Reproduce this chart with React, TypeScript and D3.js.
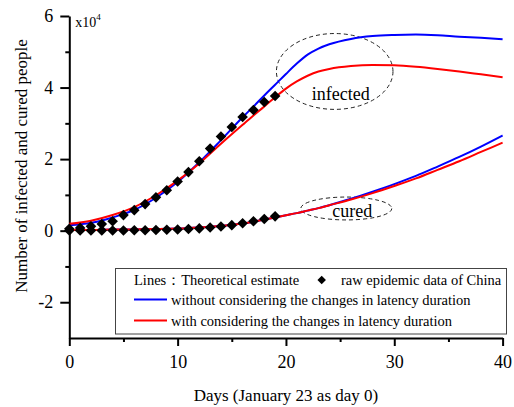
import * as d3 from 'd3'
import { useEffect, useRef } from 'react'

// raw epidemic data of China (x10^4), day 0..19
const rawDays = d3.range(0, 20)
const rawInfected = [
  0.053, 0.077, 0.121, 0.187, 0.261, 0.435, 0.574, 0.742, 0.931, 1.129,
  1.375, 1.637, 1.938, 2.294, 2.63, 2.899, 3.177, 3.374, 3.598, 3.763,
]
const rawCured = [
  0.003, 0.003, 0.004, 0.005, 0.005, 0.006, 0.01, 0.012, 0.017, 0.024,
  0.033, 0.048, 0.063, 0.089, 0.115, 0.154, 0.205, 0.265, 0.328, 0.4,
]

// theoretical estimate, read at these days (denser around the bend)
const curveDays = [
  0, 2, 4, 6, 8, 10, 12, 14, 16, 17, 18, 19, 20, 21, 22, 23, 24,
  26, 28, 30, 32, 34, 36, 38, 40,
]
const blueInfected = [
  0.15, 0.22, 0.37, 0.58, 0.92, 1.36, 1.91, 2.53, 3.17, 3.47, 3.78, 4.08, 4.38,
  4.67, 4.92, 5.09, 5.21, 5.36, 5.44, 5.47, 5.48, 5.46, 5.42, 5.39, 5.35,
]
const redInfected = [
  0.19, 0.28, 0.44, 0.66, 0.99, 1.4, 1.88, 2.43, 2.96, 3.22, 3.47, 3.73, 3.97,
  4.17, 4.33, 4.45, 4.52, 4.6, 4.63, 4.62, 4.58, 4.52, 4.45, 4.37, 4.29,
]
const blueCured = [
  0.02, 0.02, 0.03, 0.035, 0.045, 0.06, 0.09, 0.13, 0.2, 0.25, 0.31, 0.37, 0.43,
  0.49, 0.56, 0.63, 0.71, 0.89, 1.09, 1.3, 1.53, 1.79, 2.06, 2.35, 2.66,
]
const redCured = [
  0.02, 0.02, 0.03, 0.035, 0.045, 0.06, 0.09, 0.13, 0.2, 0.25, 0.31, 0.37, 0.43,
  0.49, 0.56, 0.63, 0.71, 0.87, 1.05, 1.25, 1.46, 1.7, 1.94, 2.2, 2.46,
]

const xTicks = [0, 10, 20, 30, 40]
const xMinor = [5, 15, 25, 35]
const yTicks = [-2, 0, 2, 4, 6]
const yMinor = [-1, 1, 3, 5]

const FONT = '"Liberation Serif", "Times New Roman", serif'

export default function App() {
  const ref = useRef<SVGSVGElement | null>(null)

  useEffect(() => {
    const width = 514
    const height = 407
    const svg = d3.select(ref.current!)
    svg.selectAll('*').remove()

    const x = d3.scaleLinear().domain([0, 40]).range([69.3, 502.6])
    const y = d3.scaleLinear().domain([-3, 6]).range([338, 16])

    svg.attr('width', width).attr('height', height)

    // X axis
    const xg = svg.append('g').attr('transform', `translate(0,${y(-3)})`)
    xg.call(
      d3
        .axisBottom(x)
        .tickValues(xTicks)
        .tickSize(8)
        .tickSizeOuter(0)
        .tickPadding(9)
        .tickFormat((d) => String(d))
    )
    xg.append('g')
      .call(
        d3.axisBottom(x).tickValues(xMinor).tickSize(4).tickSizeOuter(0).tickFormat(() => '')
      )
      .select('.domain')
      .remove()

    // Y axis
    const yg = svg.append('g').attr('transform', `translate(${x(0)},0)`)
    yg.call(
      d3
        .axisLeft(y)
        .tickValues(yTicks)
        .tickSize(9)
        .tickSizeOuter(0)
        .tickPadding(7)
        .tickFormat((d) => String(d))
    )
    yg.append('g')
      .call(
        d3.axisLeft(y).tickValues(yMinor).tickSize(4).tickSizeOuter(0).tickFormat(() => '')
      )
      .select('.domain')
      .remove()

    svg.selectAll('.domain').attr('stroke-width', 2).attr('stroke', '#000')
    svg.selectAll('.tick line').attr('stroke-width', 2).attr('stroke', '#000')
    svg
      .selectAll('.tick text')
      .attr('font-family', FONT)
      .attr('font-size', 18)
      .attr('fill', '#000')

    // x10^4
    const mult = svg
      .append('text')
      .attr('x', x(0) + 6)
      .attr('y', 27)
      .attr('font-family', FONT)
      .attr('font-size', 14)
      .text('x10')
    mult.append('tspan').attr('dy', -7).attr('font-size', 9).text('4')

    // axis titles
    svg
      .append('text')
      .attr('x', (x(0) + x(40)) / 2)
      .attr('y', 401)
      .attr('text-anchor', 'middle')
      .attr('font-family', FONT)
      .attr('font-size', 17)
      .text('Days (January 23 as day 0)')
    svg
      .append('text')
      .attr('transform', `translate(27,166) rotate(-90)`)
      .attr('text-anchor', 'middle')
      .attr('font-family', FONT)
      .attr('font-size', 17)
      .text('Number of infected and cured people')

    // annotation ellipses
    const ellipses = [
      { cx: 24.5, cy: 4.45, rx: 5.38, ry: 1.06, label: 'infected', ly: 3.65 },
      { cx: 25.57, cy: 0.62, rx: 4.2, ry: 0.32, label: 'cured', ly: 0.376 },
    ]
    ellipses.forEach((e) => {
      svg
        .append('ellipse')
        .attr('cx', x(e.cx))
        .attr('cy', y(e.cy))
        .attr('rx', x(e.rx) - x(0))
        .attr('ry', y(0) - y(e.ry))
        .attr('fill', 'none')
        .attr('stroke', '#222')
        .attr('stroke-width', 1)
        .attr('stroke-dasharray', '4,3')
      svg
        .append('text')
        .attr('x', x(e.cx) + 6)
        .attr('y', y(e.ly))
        .attr('text-anchor', 'middle')
        .attr('font-family', FONT)
        .attr('font-size', 18)
        .text(e.label)
    })

    // lines
    const line = d3
      .line<number>()
      .x((_, i) => x(curveDays[i]))
      .y((d) => y(d))
      .curve(d3.curveMonotoneX)
    const lines: [number[], string][] = [
      [blueInfected, '#0000ff'],
      [blueCured, '#0000ff'],
      [redInfected, '#ff0000'],
      [redCured, '#ff0000'],
    ]
    lines.forEach(([vals, c]) => {
      svg
        .append('path')
        .attr('d', line(vals))
        .attr('fill', 'none')
        .attr('stroke', c)
        .attr('stroke-width', 2)
    })

    // raw data diamonds
    const diamond = d3.symbol().type(d3.symbolSquare).size(56)
    const pts = [
      ...rawDays.map((d, i) => [d, rawCured[i]]),
      ...rawDays.map((d, i) => [d, rawInfected[i]]),
    ]
    svg
      .append('g')
      .selectAll('path')
      .data(pts)
      .join('path')
      .attr('d', diamond()!)
      .attr('transform', (d) => `translate(${x(d[0])},${y(d[1])}) rotate(45)`)
      .attr('fill', '#000')

    // legend
    const lg = svg.append('g')
    lg.append('rect')
      .attr('x', 115.5)
      .attr('y', 268.5)
      .attr('width', 391)
      .attr('height', 65.5)
      .attr('fill', '#fff')
      .attr('stroke', '#444')
      .attr('stroke-width', 1)
    const ltext = (tx: number, ty: number, s: string) =>
      lg
        .append('text')
        .attr('x', tx)
        .attr('y', ty)
        .attr('font-family', FONT)
        .attr('font-size', 14.5)
        .text(s)
    ltext(134, 285, 'Lines：Theoretical estimate')
    lg.append('path')
      .attr('d', d3.symbol().type(d3.symbolSquare).size(36)()!)
      .attr('transform', 'translate(321.7,280) rotate(45)')
      .attr('fill', '#000')
    ltext(341, 285, 'raw epidemic data of China')
    lg.append('line')
      .attr('x1', 134).attr('x2', 167).attr('y1', 299.5).attr('y2', 299.5)
      .attr('stroke', '#0000ff').attr('stroke-width', 2)
    ltext(171, 304.5, 'without considering the changes in latency duration')
    lg.append('line')
      .attr('x1', 134).attr('x2', 167).attr('y1', 320.5).attr('y2', 320.5)
      .attr('stroke', '#ff0000').attr('stroke-width', 2)
    ltext(171, 325.5, 'with considering the changes in latency duration')
  }, [])

  return (
    <svg
      ref={ref}
      style={{ position: 'absolute', left: 0, top: 0, background: '#fff' }}
    />
  )
}
